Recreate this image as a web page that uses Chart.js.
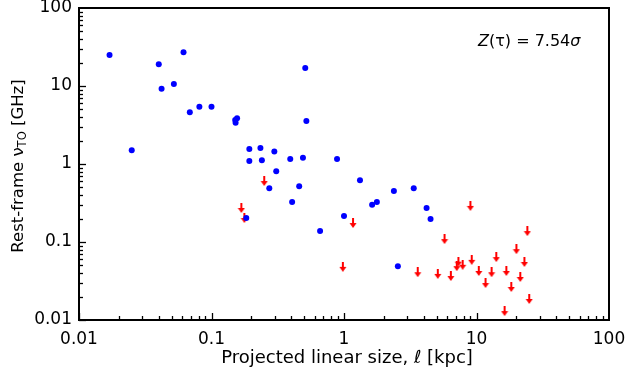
<!DOCTYPE html>
<html><head><meta charset="utf-8">
<script src="https://cdn.jsdelivr.net/npm/chart.js@4"></script>
<style>html,body{margin:0;padding:0;background:#fff}</style>
</head><body>
<canvas id="c" width="630" height="375"></canvas>
<script>
// Detections (blue points)
const detX = [0.017,0.025,0.040,0.042,0.052,0.0615,0.0686,0.081,0.100,0.151,0.156,0.152,0.51,0.52,0.193,0.234,0.298,0.193,0.24,0.308,0.393,0.49,0.886,0.273,0.459,0.406,0.183,0.66,1.0,1.32,1.63,1.77,2.38,3.36,4.2,4.5,2.55];
const detY = [25,1.5,19,9.2,10.6,27,4.6,5.4,5.4,3.66,3.85,3.38,17,3.55,1.56,1.6,1.45,1.09,1.12,0.81,1.16,1.2,1.16,0.49,0.52,0.326,0.203,0.138,0.215,0.62,0.30,0.326,0.45,0.49,0.273,0.197,0.049];
// Upper limits (red arrows)
const limX = [0.25,0.168,0.177,0.98,1.17,9.0,5.74,24.2,20,23,14.1,9.2,7.3,7.1,7.86,3.6,5.1,6.4,10.4,13.0,16.8,21.4,11.7,18.3,25,16.3];
const limY = [0.605,0.273,0.203,0.048,0.175,0.29,0.109,0.138,0.081,0.0555,0.064,0.059,0.056,0.049,0.051,0.041,0.039,0.0366,0.0425,0.041,0.0425,0.0356,0.0298,0.0265,0.0186,0.013];
const xTickValues = [0.01,0.1,1,10,100];
const xTickLabels = ['0.01','0.1','1','10','100'];
const yTickValues = [0.01,0.1,1,10,100];
const yTickLabels = ['0.01','0.1','1','10','100'];
const xTitle = 'Projected linear size, ℓ [kpc]';
const yTitleParts = ['Rest-frame ν', 'TO', ' [GHz]'];
const annParts = ['Z', '(τ) = 7.54', 'σ'];

const FONT = "'DejaVu Sans', sans-serif";

// arrow marker
function makeArrow(){
  const c = document.createElement('canvas');
  c.width = 8; c.height = 10;
  const g = c.getContext('2d');
  g.fillStyle = '#ff0000';
  g.fillRect(3, 0, 2, 6);
  g.beginPath();
  g.moveTo(0.5, 5); g.lineTo(7.5, 5); g.lineTo(4, 10); g.closePath();
  g.fill();
  return c;
}
const arrow = makeArrow();

const detData = detX.map((x,i)=>({x, y: detY[i]}));
const limData = limX.map((x,i)=>({x, y: limY[i]}));

function drawDecor(chart){
  const {ctx, chartArea:a, scales:{x, y}} = chart;
  ctx.save();
  ctx.strokeStyle = '#000';
  ctx.lineWidth = 1.3;
  for (let e=-2; e<2; e++){
    for (let m=1; m<=9; m++){
      const v = m*Math.pow(10,e);
      const len = m===1 ? 7 : 4;
      const px = Math.round(x.getPixelForValue(v))+0.5;
      ctx.beginPath(); ctx.moveTo(px, a.bottom); ctx.lineTo(px, a.bottom-len); ctx.stroke();
      const py = Math.round(y.getPixelForValue(v))+0.5;
      ctx.beginPath(); ctx.moveTo(a.left, py); ctx.lineTo(a.left+len, py); ctx.stroke();
    }
  }
  ctx.lineWidth = 2;
  ctx.strokeRect(a.left, a.top, a.right-a.left, a.bottom-a.top);

  ctx.fillStyle = '#000';
  // x title
  ctx.font = "18px " + FONT;
  ctx.textAlign = 'center';
  ctx.textBaseline = 'alphabetic';
  ctx.fillText(xTitle, (a.left+a.right)/2 + 3, 363);

  // y title
  ctx.save();
  ctx.translate(23, 166);
  ctx.rotate(-Math.PI/2);
  const f1 = "16.5px " + FONT, f2 = "11.5px " + FONT;
  ctx.font = f1; const w1 = ctx.measureText(yTitleParts[0]).width;
  const w3 = ctx.measureText(yTitleParts[2]).width;
  ctx.font = f2; const w2 = ctx.measureText(yTitleParts[1]).width;
  let sx = -(w1+w2+w3)/2;
  ctx.textAlign = 'left';
  ctx.font = f1; ctx.fillText(yTitleParts[0], sx, 0); sx += w1;
  ctx.font = f2; ctx.fillText(yTitleParts[1], sx, 3); sx += w2;
  ctx.font = f1; ctx.fillText(yTitleParts[2], sx, 0);
  ctx.restore();

  // annotation
  const fi = "italic 16px " + FONT, fn = "16px " + FONT;
  let ax = 478; const ay = 46;
  ctx.textAlign = 'left';
  ctx.font = fi; ctx.fillText(annParts[0], ax, ay); ax += ctx.measureText(annParts[0]).width;
  ctx.font = fn; ctx.fillText(annParts[1], ax, ay); ax += ctx.measureText(annParts[1]).width;
  ctx.font = fi; ctx.fillText(annParts[2], ax, ay);
  ctx.restore();
}

new Chart(document.getElementById('c'), {
  type: 'scatter',
  data: { datasets: [
    { label: 'det', data: detData, backgroundColor: '#0000ff', borderColor: '#0000ff', pointRadius: 3, borderWidth: 0, order: 0 },
    { label: 'lim', data: limData, pointStyle: arrow, pointRadius: 5, order: 1 }
  ]},
  options: {
    responsive: false, animation: false, devicePixelRatio: 1,
    layout: { padding: { left: 0, right: 21, top: 8, bottom: 0 } },
    plugins: { legend: { display: false }, tooltip: { enabled: false } },
    scales: {
      x: {
        type: 'logarithmic', min: 0.01, max: 100,
        grid: { display: false, drawTicks: false }, border: { display: false },
        afterBuildTicks: s => { s.ticks = xTickValues.map(v=>({value:v})); },
        ticks: { autoSkip: false, maxRotation: 0, padding: 9, color: '#000', font: { family: FONT, size: 17 },
          callback: (v) => { const i = xTickValues.findIndex(t=>Math.abs(t-v)/t<1e-6); return i>=0 ? xTickLabels[i] : ''; } },
        afterFit: s => { s.height = 55; s.paddingLeft = 0; s.paddingRight = 0; }
      },
      y: {
        type: 'logarithmic', min: 0.01, max: 100,
        grid: { display: false, drawTicks: false }, border: { display: false },
        afterBuildTicks: s => { s.ticks = yTickValues.map(v=>({value:v})); },
        ticks: { autoSkip: false, padding: 7, color: '#000', font: { family: FONT, size: 17 },
          callback: (v) => { const i = yTickValues.findIndex(t=>Math.abs(t-v)/t<1e-6); return i>=0 ? yTickLabels[i] : ''; } },
        afterFit: s => { s.width = 79; s.paddingTop = 0; s.paddingBottom = 0; }
      }
    }
  },
  plugins: [{ id: 'decor', afterDraw: drawDecor }]
});
</script>
</body></html>
